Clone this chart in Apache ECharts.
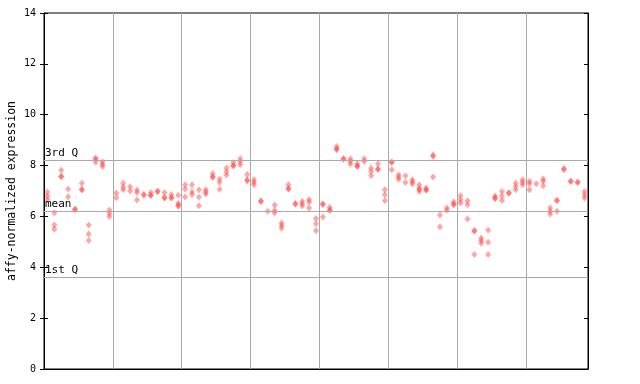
<!DOCTYPE html>
<html>
<head>
<meta charset="utf-8">
<script src="https://cdn.jsdelivr.net/npm/echarts@6/dist/echarts.min.js"></script>
<style>html,body{margin:0;padding:0;background:#fff}#c{width:640px;height:384px}</style>
</head>
<body>
<div id="c"></div>
<script>
// expression values per sample column (replicates)
const columns = [
  [6.96, 6.8, 6.67], [6.14, 5.66, 5.5], [7.83, 7.58, 7.56], [7.08, 6.77], [6.29, 6.26],
  [7.3, 7.07, 7.04], [5.66, 5.31, 5.05], [8.29, 8.26, 8.13], [8.15, 8.05, 7.96], [6.25, 6.12, 6.0],
  [6.92, 6.73], [7.31, 7.16, 7.05], [7.17, 7.0], [7.04, 6.94, 6.65], [6.87, 6.83],
  [6.94, 6.83, 6.82], [7.0, 6.97], [6.94, 6.74, 6.72], [6.86, 6.74, 6.72], [6.83, 6.52, 6.44, 6.4],
  [7.25, 7.08, 6.76], [7.25, 6.97, 6.86], [7.05, 6.76, 6.42], [7.05, 6.96, 6.88], [7.69, 7.56, 7.54],
  [7.47, 7.34, 7.07], [7.9, 7.76, 7.63], [8.12, 8.0, 7.98], [8.27, 8.15, 8.03], [7.65, 7.43, 7.4],
  [7.44, 7.34, 7.25], [6.62, 6.58], [6.2], [6.45, 6.23, 6.14], [5.74, 5.64, 5.54],
  [7.25, 7.1, 7.08], [6.52, 6.48], [6.6, 6.5, 6.41], [6.66, 6.57, 6.33], [5.92, 5.71, 5.44],
  [6.49, 6.47, 5.98], [6.36, 6.25, 6.23], [8.75, 8.65, 8.63], [8.28, 8.25], [8.27, 8.16, 8.06],
  [8.07, 7.98, 7.96], [8.27, 8.16], [7.9, 7.77, 7.6], [8.07, 7.87, 7.85], [7.05, 6.85, 6.62],
  [8.14, 8.12, 7.84], [7.64, 7.55, 7.46], [7.6, 7.33], [7.44, 7.36, 7.28], [7.25, 7.1, 7.07, 6.98],
  [7.12, 7.05, 7.03], [8.42, 8.36, 7.55], [6.06, 5.58], [6.33, 6.24], [6.58, 6.48, 6.46],
  [6.81, 6.66, 6.53], [6.62, 6.46, 5.9], [5.45, 5.42, 4.5], [5.15, 5.05, 4.95], [5.46, 4.98, 4.5],
  [6.8, 6.73, 6.7], [6.98, 6.8, 6.63], [6.93, 6.91], [7.31, 7.18, 7.05], [7.44, 7.34, 7.25],
  [7.38, 7.29, 7.05], [7.29], [7.47, 7.38, 7.21], [6.33, 6.2, 6.1], [6.64, 6.62, 6.2],
  [7.88, 7.84], [7.39, 7.37], [7.35, 7.33], [6.98, 6.85, 6.72]
];
const groupSize = 10;
const refLabels = ['3rd Q', 'mean', '1st Q'];
const refValues = [8.22, 6.22, 3.62];
const yTicks = [0, 2, 4, 6, 8, 10, 12, 14];
const yTitle = 'affy-normalized expression';

const mono = 'DejaVu Sans Mono';
const points = [];
columns.forEach((vals, i) => vals.forEach(v => points.push([i + 0.5, v])));

const chart = echarts.init(document.getElementById('c'), null, {renderer: 'canvas'});
chart.setOption({
  animation: false,
  backgroundColor: '#fff',
  grid: {left: 44, right: 52, top: 13, bottom: 15, containLabel: false, outerBoundsMode: 'none',
         show: true, borderColor: '#000', borderWidth: 1, backgroundColor: 'transparent'},
  xAxis: {
    type: 'value', min: 0, max: columns.length, interval: groupSize,
    axisLine: {show: true, lineStyle: {color: '#000', width: 1}},
    axisTick: {show: false}, axisLabel: {show: false},
    splitLine: {show: true, lineStyle: {color: '#aaaaaa', width: 1}}
  },
  yAxis: [
    {
      type: 'value', min: yTicks[0], max: yTicks[yTicks.length - 1], interval: 2, position: 'left',
      axisLine: {show: true, lineStyle: {color: '#000', width: 1}},
      axisTick: {show: true, inside: false, length: 4, lineStyle: {color: '#000'}},
      axisLabel: {color: '#000', fontFamily: mono, fontSize: 10, margin: 8},
      splitLine: {show: false},
      name: yTitle, nameLocation: 'middle', nameGap: 26, nameRotate: 90, nameMoveOverlap: false,
      nameTextStyle: {color: '#000', fontFamily: mono, fontSize: 11.5}
    },
    {
      type: 'value', min: yTicks[0], max: yTicks[yTicks.length - 1], interval: 2, position: 'left',
      axisLine: {show: false}, axisLabel: {show: false}, splitLine: {show: false},
      axisTick: {show: true, inside: true, length: 4, lineStyle: {color: '#000'}}
    },
    {
      type: 'value', min: yTicks[0], max: yTicks[yTicks.length - 1], interval: 2, position: 'right',
      axisLine: {show: true, lineStyle: {color: '#000'}}, axisLabel: {show: false}, splitLine: {show: false},
      axisTick: {show: true, inside: true, length: 4, lineStyle: {color: '#000'}}
    }
  ],
  series: [{
    type: 'scatter',
    data: points,
    symbol: 'diamond',
    symbolSize: [6, 7],
    itemStyle: {color: 'rgba(255,70,70,0.6)'},
    markLine: {
      silent: true, symbol: 'none', animation: false,
      lineStyle: {color: '#aaaaaa', width: 1, type: 'solid'},
      label: {show: true, position: 'insideStartTop', formatter: '{b}', color: '#000',
              fontFamily: mono, fontSize: 11, distance: [1, 1]},
      data: refValues.map((v, k) => ({name: refLabels[k], yAxis: v}))
    }
  }]
});
</script>
</body>
</html>
